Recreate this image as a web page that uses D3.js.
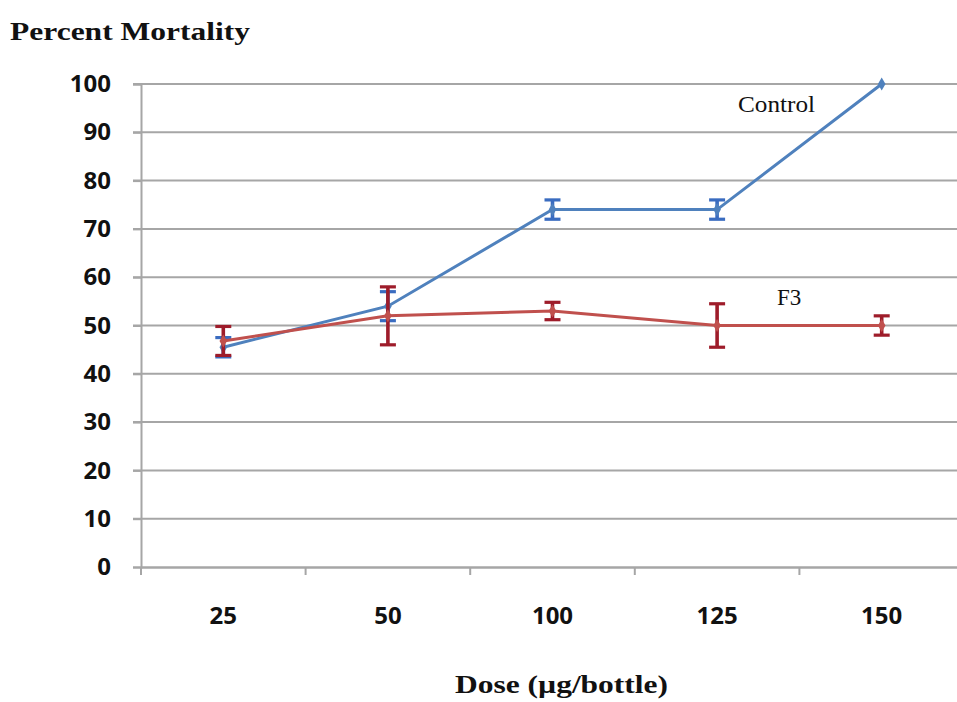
<!DOCTYPE html>
<html><head><meta charset="utf-8">
<script src="https://cdn.jsdelivr.net/npm/d3@7"></script>
<style>body{margin:0;background:#fff}svg{display:block}</style>
</head><body>
<svg id="c" width="957" height="702"></svg>
<script>
const doses = ["25","50","100","125","150"];
const controlMean = [45.5, 54, 74, 74, 100];
const controlErr  = [2, 3, 2, 2, 0];
const f3Mean = [46.8, 52, 53, 50, 50];
const f3Err  = [3, 6, 1.8, 4.5, 2];
const yTicks = [0,10,20,30,40,50,60,70,80,90,100];

const svg = d3.select("#c");
const L = 141, R = 964, T = 84, B = 567;
const x = d3.scaleBand().domain(doses).range([L, R]);
const y = d3.scaleLinear().domain([0,100]).range([B, T]);
const grid = "#a6a6a6";

// gridlines
svg.append("g").selectAll("line").data(yTicks.filter(d=>d>0)).join("line")
  .attr("x1", L-8).attr("x2", R).attr("y1", d=>y(d)).attr("y2", d=>y(d))
  .attr("stroke", grid).attr("stroke-width", 2);

// y axis
const ya = svg.append("g").attr("transform", `translate(${L},0)`)
  .call(d3.axisLeft(y).tickValues(yTicks).tickSize(8).tickPadding(22).tickFormat(d3.format("d")));
ya.select(".domain").attr("stroke", grid).attr("stroke-width", 2);
ya.selectAll(".tick line").attr("stroke", grid).attr("stroke-width", 2);
ya.selectAll("text").attr("font-family", "'Open Sans', sans-serif").attr("font-weight", "bold")
  .attr("font-size", 24).attr("fill", "#111");

// x axis
const xa = svg.append("g").attr("transform", `translate(0,${B})`)
  .call(d3.axisBottom(x).tickSize(0).tickPadding(40));
xa.select(".domain").attr("stroke", grid).attr("stroke-width", 2.5);
xa.selectAll("text").attr("font-family", "'Open Sans', sans-serif").attr("font-weight", "bold")
  .attr("font-size", 24).attr("fill", "#111");
// x tick marks at band boundaries
svg.append("g").selectAll("line").data(doses).join("line")
  .attr("x1", d=>x(d)).attr("x2", d=>x(d)).attr("y1", B).attr("y2", B+8)
  .attr("stroke", grid).attr("stroke-width", 2);

const cx = d => x(d) + x.bandwidth()/2;

function series(mean, err, lineColor, errColor) {
  const data = doses.map((d,i)=>({d, m: mean[i], e: err[i]}));
  svg.append("path").datum(data)
    .attr("d", d3.line().x(p=>cx(p.d)).y(p=>y(p.m)))
    .attr("fill","none").attr("stroke", lineColor).attr("stroke-width", 3);
  const g = svg.append("g");
  data.filter(p=>p.e>0).forEach(p=>{
    const X = cx(p.d);
    g.append("line").attr("x1",X).attr("x2",X).attr("y1",y(p.m+p.e)).attr("y2",y(p.m-p.e))
      .attr("stroke",errColor).attr("stroke-width",3.6);
    [p.m+p.e, p.m-p.e].forEach(v=>g.append("line").attr("x1",X-8).attr("x2",X+8)
      .attr("y1",y(v)).attr("y2",y(v)).attr("stroke",errColor).attr("stroke-width",3.2));
  });
  g.selectAll("path.mk").data(data).join("path")
    .attr("transform", p=>`translate(${cx(p.d)},${y(p.m)})`)
    .attr("d", d3.symbol(d3.symbolDiamond, 50))
    .attr("fill", lineColor);
}
series(controlMean, controlErr, "#4f81bd", "#3a6cc0");
series(f3Mean, f3Err, "#c0504d", "#9e1c2a");

// labels
svg.append("text").attr("x", 738).attr("y", 112).text("Control")
  .attr("font-family","'Liberation Serif', serif").attr("font-size", 23)
  .attr("textLength", 77).attr("lengthAdjust","spacingAndGlyphs").attr("fill","#111");
svg.append("text").attr("x", 777).attr("y", 305).text("F3")
  .attr("font-family","'Liberation Serif', serif").attr("font-size", 23).attr("fill","#111");
svg.append("text").attr("x", 10).attr("y", 40).text("Percent Mortality")
  .attr("font-family","'Liberation Serif', serif").attr("font-weight","bold").attr("font-size", 26)
  .attr("textLength", 240).attr("lengthAdjust","spacingAndGlyphs").attr("fill","#111");
svg.append("text").attr("x", 455).attr("y", 693).text("Dose (µg/bottle)")
  .attr("font-family","'Liberation Serif', serif").attr("font-weight","bold").attr("font-size", 26)
  .attr("textLength", 213).attr("lengthAdjust","spacingAndGlyphs").attr("fill","#111");
</script>
</body></html>
